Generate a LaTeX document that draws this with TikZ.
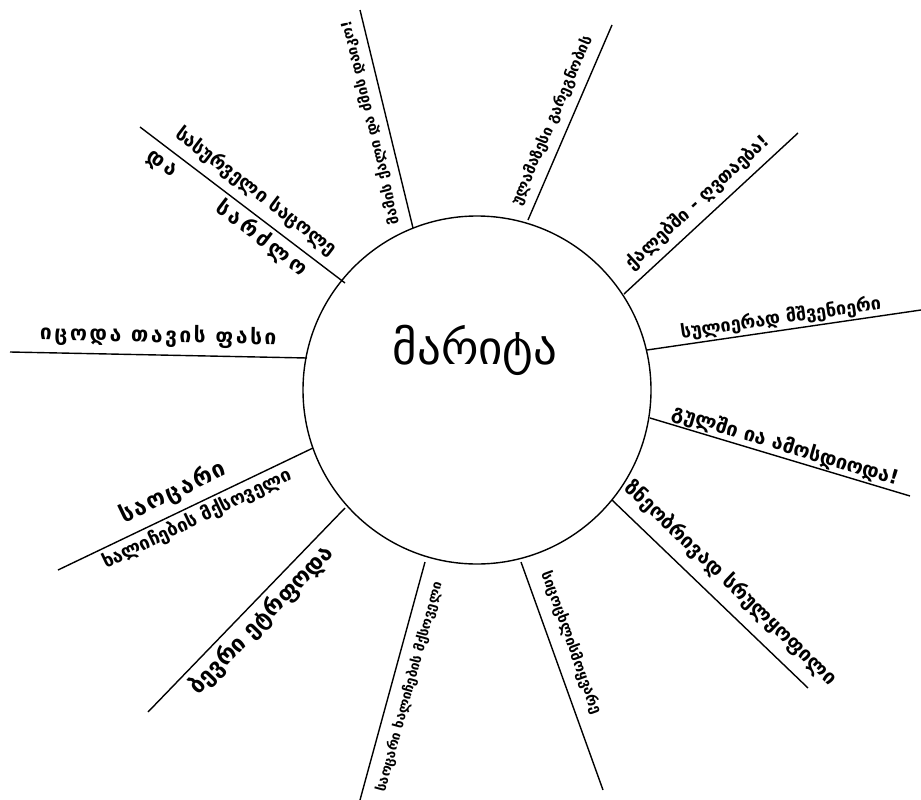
\documentclass[tikz,border=0pt]{standalone}
\usepackage{fontspec}
\newfontfamily\geo{DejaVu Sans}
\begin{document}
\begin{tikzpicture}[x=1pt,y=-1pt,line width=1.4pt,
  branch/.style={draw=black},
  lbl/.style={sloped,allow upside down,inner sep=0pt,anchor=center,font=\geo\bfseries},
  hubstyle/.style={circle,draw=black,line width=1.4pt,minimum size=348pt,inner sep=0pt}]
\useasboundingbox (0,0) rectangle (921,800);
\node[hubstyle] (hub) at (477,390) {};
\node[font=\geo\fontsize{47}{52}\selectfont] (title) at (475,350) {მარიტა};
% end points
\coordinate (a1) at (140,127);  \coordinate (b1) at (345,283);
\coordinate (a2) at (413,228);  \coordinate (b2) at (360,10);
\coordinate (a3) at (528,220);  \coordinate (b3) at (612,25);
\coordinate (a4) at (624,294);  \coordinate (b4) at (798,133);
\coordinate (a5) at (647,350);  \coordinate (b5) at (921,310);
\coordinate (a6) at (650,418);  \coordinate (b6) at (910,496);
\coordinate (a7) at (612,500);  \coordinate (b7) at (808,688);
\coordinate (a8) at (521,562);  \coordinate (b8) at (603,790);
\coordinate (a9) at (360,800);  \coordinate (b9) at (425,562);
\coordinate (a10) at (148,712); \coordinate (b10) at (345,508);
\coordinate (a11) at (58,570);  \coordinate (b11) at (313,448);
\coordinate (a12) at (10,352);  \coordinate (b12) at (307,358);
% branches
\draw[branch] (a1) --
  node[lbl,pos=.51,yshift=19pt,font=\geo\bfseries\fontsize{19}{21}\selectfont] (t1a) {სასურველი საცოლე}
  node[lbl,pos=.47,yshift=-15pt,font=\geo\bfseries\fontsize{21}{23}\selectfont\addfontfeature{LetterSpace=16}] (t1b) {და~~~~~სარძლო} (b1);
\draw[branch] (a2) --
  node[lbl,pos=.5,yshift=16pt,font=\geo\bfseries\fontsize{14.5}{16}\selectfont] (t2) {მამის ქალი და ძმის დაიკო!} (b2);
\draw[branch] (a3) --
  node[lbl,pos=.475,yshift=17pt,font=\geo\bfseries\fontsize{15}{17}\selectfont] (t3) {ულამაზესი გარეგნობის} (b3);
\draw[branch] (a4) --
  node[lbl,pos=.49,yshift=17pt,font=\geo\bfseries\fontsize{18}{20}\selectfont] (t4) {ქალებში - ღვთაება!} (b4);
\draw[branch] (a5) --
  node[lbl,pos=.495,yshift=12pt,font=\geo\bfseries\fontsize{18}{20}\selectfont] (t5) {სულიერად მშვენიერი} (b5);
\draw[branch] (a6) --
  node[lbl,pos=.507,yshift=12pt,font=\geo\bfseries\fontsize{20}{22}\selectfont] (t6) {გულში ია ამოსდიოდა!} (b6);
\draw[branch] (a7) --
  node[lbl,pos=.528,yshift=22pt,font=\geo\bfseries\fontsize{20}{22}\selectfont] (t7) {ზნეობრივად სრულყოფილი} (b7);
\draw[branch] (a8) --
  node[lbl,pos=.384,yshift=20pt,font=\geo\bfseries\fontsize{14.5}{16}\selectfont] (t8) {სიცოცხლისმოყვარე} (b8);
\draw[branch] (a9) --
  node[lbl,pos=.495,yshift=-18pt,font=\geo\bfseries\fontsize{13.5}{15}\selectfont] (t9) {საოცარი ხალიჩების მქსოველი} (b9);
\draw[branch] (a10) --
  node[lbl,pos=.511,yshift=-18pt,font=\geo\bfseries\fontsize{23}{25}\selectfont] (t10) {ბევრი ეტრფოდა} (b10);
\draw[branch] (a11) --
  node[lbl,pos=.485,yshift=20pt,font=\geo\bfseries\fontsize{23}{25}\selectfont\addfontfeature{LetterSpace=8}] (t11a) {საოცარი}
  node[lbl,pos=.522,yshift=-14pt,font=\geo\bfseries\fontsize{18.5}{20}\selectfont] (t11b) {ხალიჩების მქსოველი} (b11);
\draw[branch] (a12) --
  node[lbl,pos=.498,yshift=19pt,font=\geo\bfseries\fontsize{21}{23}\selectfont\addfontfeature{LetterSpace=12}] (t12) {იცოდა თავის ფასი} (b12);
\end{tikzpicture}
\end{document}
